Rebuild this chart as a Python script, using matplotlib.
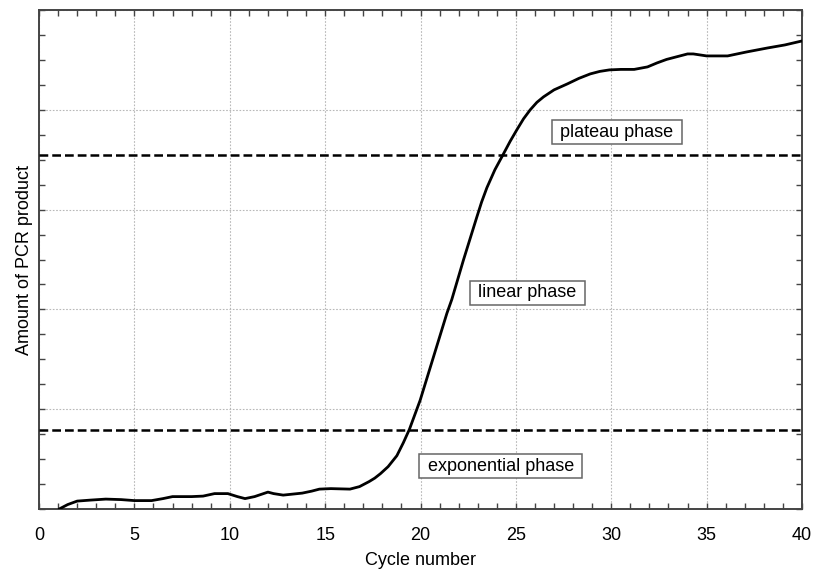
import matplotlib
matplotlib.use("Agg")
import matplotlib.pyplot as plt
from matplotlib.ticker import MultipleLocator

plt.rcParams['font.family'] = ['Liberation Sans', 'DejaVu Sans']

cycles = [1.05, 1.5, 2.0, 2.7, 3.5, 4.3, 5.0, 5.9, 6.5, 7.0, 8.0, 8.6, 9.2, 9.9,
          10.4, 10.8, 11.3, 12.0, 12.3, 12.8, 13.8, 14.3, 14.7, 15.3, 16.3, 16.8,
          17.3, 17.6, 17.9, 18.3, 18.76, 19.1, 19.42, 19.98, 20.68, 21.38, 21.64,
          22.25, 22.95, 23.2, 23.48, 23.9, 24.31, 24.7, 25.05, 25.4, 25.75, 26.1,
          26.45, 27.0, 27.7, 28.3, 28.9, 29.4, 29.9, 30.5, 31.2, 31.9, 32.4, 32.9,
          33.5, 34.0, 34.3, 35.0, 36.1, 37.1, 38.2, 39.1, 40.0]
product = [0.0, 0.009, 0.016, 0.018, 0.020, 0.019, 0.017, 0.017, 0.021, 0.025,
           0.025, 0.026, 0.031, 0.031, 0.025, 0.021, 0.025, 0.034, 0.031, 0.028,
           0.032, 0.036, 0.040, 0.041, 0.040, 0.045, 0.055, 0.062, 0.071, 0.085,
           0.107, 0.133, 0.160, 0.218, 0.305, 0.392, 0.420, 0.499, 0.585, 0.615,
           0.644, 0.680, 0.709, 0.737, 0.760, 0.782, 0.800, 0.815, 0.826, 0.840,
           0.852, 0.863, 0.872, 0.877, 0.880, 0.881, 0.881, 0.886, 0.894, 0.901,
           0.907, 0.912, 0.912, 0.908, 0.908, 0.916, 0.924, 0.930, 0.938]

thresholds = [0.158, 0.709]
phase_labels = ["exponential phase", "linear phase", "plateau phase"]
phase_x = [24.2, 25.6, 30.3]
phase_y = [0.086, 0.433, 0.755]

fig = plt.figure(figsize=(8.13, 5.72), dpi=100)
ax = fig.add_axes([0.048, 0.110, 0.9385, 0.8725])

ax.set_xlim(0, 40)
ax.set_ylim(0, 1)

ax.xaxis.set_major_locator(MultipleLocator(5))
ax.xaxis.set_minor_locator(MultipleLocator(1))
ax.yaxis.set_major_locator(MultipleLocator(0.2))
ax.yaxis.set_minor_locator(MultipleLocator(0.05))
ax.tick_params(which='both', direction='in', top=True, right=True,
               length=4, width=1, color='#444444', labelsize=13)
ax.tick_params(axis='y', labelleft=False)
ax.tick_params(axis='x', pad=13)

ax.grid(True, which='major', linestyle=(0, (1.5, 1.5)), color='#b8b8b8', linewidth=0.8)

for s in ax.spines.values():
    s.set_color('#444444')
    s.set_linewidth(1.4)

for t in thresholds:
    ax.axhline(t, color='black', linestyle=(0, (3.5, 1.6)), linewidth=1.8, zorder=3)

ax.plot(cycles, product, color='black', linewidth=2, zorder=4,
        solid_joinstyle='round', solid_capstyle='round')

for lab, x, y in zip(phase_labels, phase_x, phase_y):
    ax.text(x, y, " " + lab + " ", ha='center', va='center', fontsize=13, zorder=5,
            bbox=dict(boxstyle='square,pad=0.2', facecolor='white',
                      edgecolor='#666666', linewidth=1.1))

ax.set_xlabel("Cycle number", fontsize=13, labelpad=6)
ax.set_ylabel("Amount of PCR product", fontsize=13, labelpad=1)

fig.savefig("out.png", dpi=100)
